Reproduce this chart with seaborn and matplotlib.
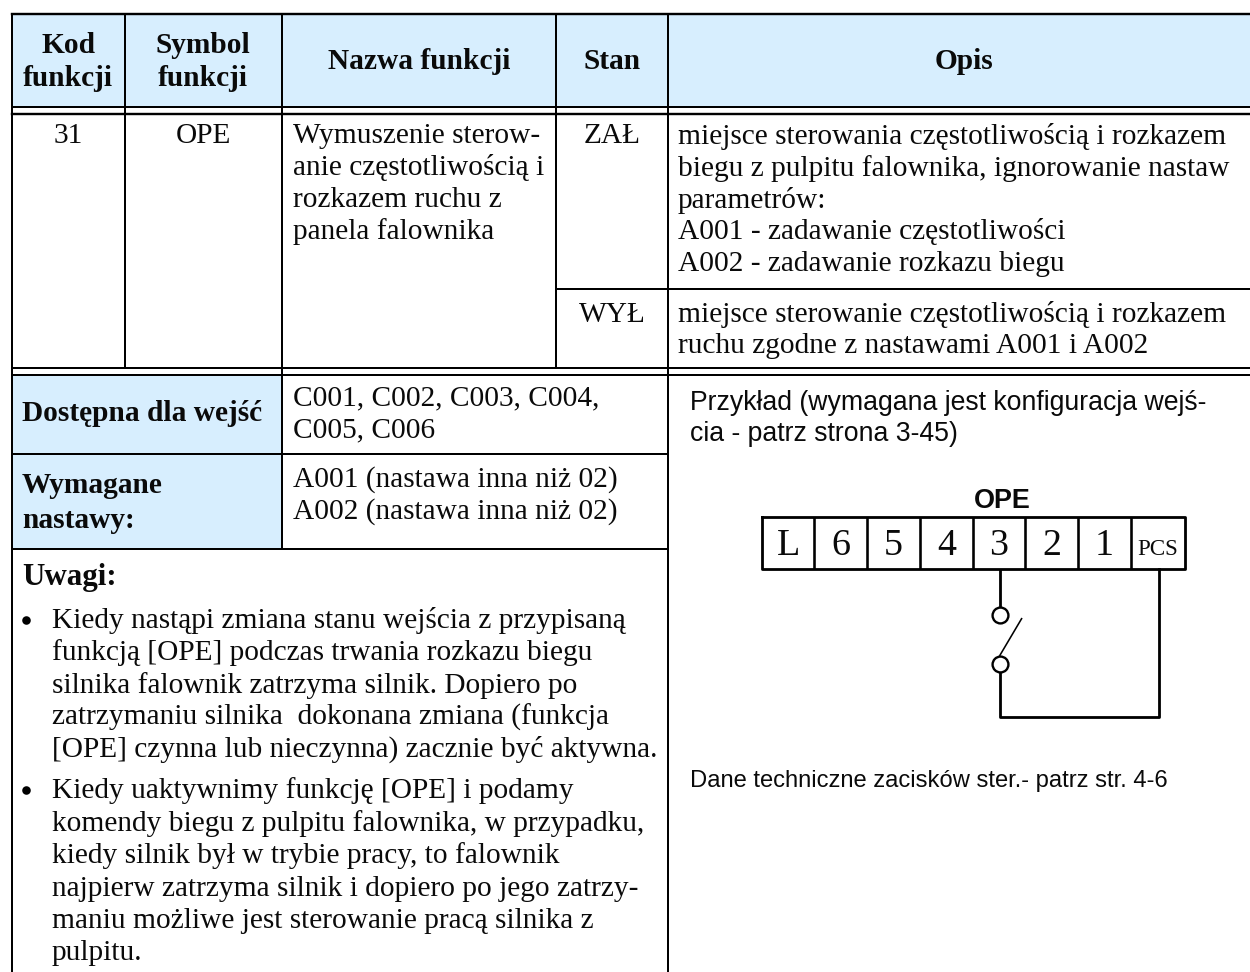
import matplotlib
matplotlib.use("Agg")
import matplotlib.pyplot as plt
from matplotlib.patches import Rectangle
import seaborn as sns

sns.set_theme(style="white")
SERIF = "Liberation Serif"
SANS = "Liberation Sans"
INK = "#0a0a0a"
FILL = "#d7eefe"
BODY = 29.4  # text height in px
PX = 0.72    # px -> pt at dpi 100

# ---- text content ----
head_code = ["Kod", "funkcji"]
head_symbol = ["Symbol", "funkcji"]
head_name = "Nazwa funkcji"
head_state = "Stan"
head_desc = "Opis"
code_value = "31"
symbol_value = "OPE"
name_lines = ["Wymuszenie sterow-", "anie częstotliwością i", "rozkazem ruchu z", "panela falownika"]
state_on = "ZAŁ"
state_off = "WYŁ"
on_lines = ["miejsce sterowania częstotliwością i rozkazem",
            "biegu z pulpitu falownika, ignorowanie nastaw",
            "parametrów:",
            "A001 - zadawanie częstotliwości",
            "A002 - zadawanie rozkazu biegu"]
off_lines = ["miejsce sterowanie częstotliwością i rozkazem",
             "ruchu zgodne z nastawami A001 i A002"]
avail_label = "Dostępna dla wejść"
avail_lines = ["C001, C002, C003, C004,", "C005, C006"]
req_label = ["Wymagane", "nastawy:"]
req_lines = ["A001 (nastawa inna niż 02)", "A002 (nastawa inna niż 02)"]
notes_title = "Uwagi:"
note_one = ["Kiedy nastąpi zmiana stanu wejścia z przypisaną",
            "funkcją [OPE] podczas trwania rozkazu biegu",
            "silnika falownik zatrzyma silnik. Dopiero po",
            "zatrzymaniu silnika  dokonana zmiana (funkcja",
            "[OPE] czynna lub nieczynna) zacznie być aktywna."]
note_two = ["Kiedy uaktywnimy funkcję [OPE] i podamy",
            "komendy biegu z pulpitu falownika, w przypadku,",
            "kiedy silnik był w trybie pracy, to falownik",
            "najpierw zatrzyma silnik i dopiero po jego zatrzy-",
            "maniu możliwe jest sterowanie pracą silnika z",
            "pulpitu."]
example_lines = ["Przykład (wymagana jest konfiguracja wejś-", "cia - patrz strona 3-45)"]
footer_line = "Dane techniczne zacisków ster.- patrz str. 4-6"
terminal_title = "OPE"
terminals = ["L", "6", "5", "4", "3", "2", "1", "PCS"]

# ---- page layout (px) ----
X_L, X_1, X_2, X_3, X_4, X_R = 11.5, 125, 282, 556, 668, 1250
Y_T, Y_H1, Y_H2, Y_W, Y_D1, Y_D2, Y_B1, Y_B2, Y_E = 14.5, 107, 114, 289, 368, 375, 454, 549, 972

fig = plt.figure(figsize=(12.5, 9.72), dpi=100)
ax = fig.add_axes([0, 0, 1, 1])
ax.set_xlim(0, 1250)
ax.set_ylim(972, 0)
ax.axis("off")


def rule(xs, ys, px=2.0, cap="butt", color="black", **kw):
    sns.lineplot(x=xs, y=ys, ax=ax, color=color, linewidth=px * PX, sort=False,
                 estimator=None, solid_capstyle=cap, legend=False, **kw)


def put(x, y, s, size=BODY, fam=SERIF, weight="normal", ha="left"):
    ax.text(x, y, s, fontsize=size * PX, family=fam, weight=weight, ha=ha,
            va="baseline", color=INK)


# fills
ax.add_patch(Rectangle((X_L, Y_T), X_R - X_L, Y_H1 - Y_T, fc=FILL, ec="none"))
ax.add_patch(Rectangle((X_L, Y_D2), X_2 - X_L, Y_B2 - Y_D2, fc=FILL, ec="none"))

# rules
for y, a, b in [(Y_T, X_L, X_R), (Y_H1, X_L, X_R), (Y_H2, X_L, X_R), (Y_D1, X_L, X_R), (Y_D2, X_L, X_R),
                (Y_W, X_3, X_R), (Y_B1, X_L, X_4), (Y_B2, X_L, X_4)]:
    rule([a, b], [y, y], px=2.4 if y in (Y_T, Y_H2) else 2.0, cap="projecting")
for x, a, b in [(X_L, Y_T, Y_E), (X_1, Y_T, Y_D1), (X_2, Y_T, Y_B2), (X_3, Y_T, Y_D1), (X_4, Y_T, Y_E)]:
    rule([x, x], [a, b], px=2.0)

# header
BOLD = dict(weight="bold", ha="center")
for y, a, b in zip((53, 86), head_code, head_symbol):
    put(68, y, a, **BOLD)
    put(203, y, b, **BOLD)
put(419, 69, head_name, **BOLD)
put(612, 69, head_state, **BOLD)
put(964, 69, head_desc, **BOLD)

# first row
put(68, 143, code_value, ha="center")
put(203, 143, symbol_value, ha="center")
for y, s in zip((143, 175, 207, 239), name_lines):
    put(293, y, s)
put(612, 143, state_on, ha="center")
for y, s in zip((144, 176, 208, 239, 271), on_lines):
    put(678, y, s)
put(612, 322, state_off, ha="center")
for y, s in zip((322, 353), off_lines):
    put(678, y, s)

# lower left block
put(22, 421, avail_label, weight="bold")
for y, s in zip((493, 528), req_label):
    put(22, y, s, weight="bold")
for y, s in zip((405, 437), avail_lines):
    put(293, y, s)
for y, s in zip((487, 519), req_lines):
    put(293, y, s)
put(22, 585, notes_title, size=31, weight="bold")
for y, s in zip((628, 660, 693, 725, 757), note_one):
    put(52, y, s)
for y, s in zip((798, 831, 863, 896, 928, 960), note_two):
    put(52, y, s)
for y in (620, 790):
    sns.scatterplot(x=[26], y=[y], ax=ax, s=38, color="black", linewidth=0, legend=False)

# example block
for y, s in zip((410, 441), example_lines):
    put(690, y, s, size=26.6, fam=SANS)
put(690, 787, footer_line, size=23.8, fam=SANS)

# terminal diagram
BOX_L, BOX_R, BOX_T, BOX_B = 762, 1185, 516.5, 569
DIVS = [814, 867, 920, 973, 1025, 1078, 1131]
put(1002, 508, terminal_title, size=27, fam=SANS, weight="bold", ha="center")
rule([BOX_L, BOX_R, BOX_R, BOX_L, BOX_L], [BOX_T, BOX_T, BOX_B, BOX_B, BOX_T], px=2.8, cap="projecting")
for x in DIVS:
    rule([x, x], [BOX_T, BOX_B], px=2.6)
edges = [BOX_L] + DIVS + [BOX_R]
for a, b, s in zip(edges[:-1], edges[1:], terminals):
    put((a + b) / 2, 555, s, size=23 if s == "PCS" else 38, ha="center")

WX, WR = 999.5, 1159
rule([WX, WX], [BOX_B, 608], px=2.8)
rule([WX, WX, WR, WR], [671, 717, 717, BOX_B], px=2.8, cap="projecting")
rule([WX, 1022], [656, 618], px=1.6)
sns.scatterplot(x=[WX, WX], y=[615, 664], ax=ax, s=130, facecolor="white", edgecolor="black",
                linewidth=1.7, legend=False, zorder=5)

ax.set_xlim(0, 1250)
ax.set_ylim(972, 0)
ax.set_xlabel("")
ax.set_ylabel("")
ax.axis("off")
fig.savefig("out.png", dpi=100, facecolor="white")
